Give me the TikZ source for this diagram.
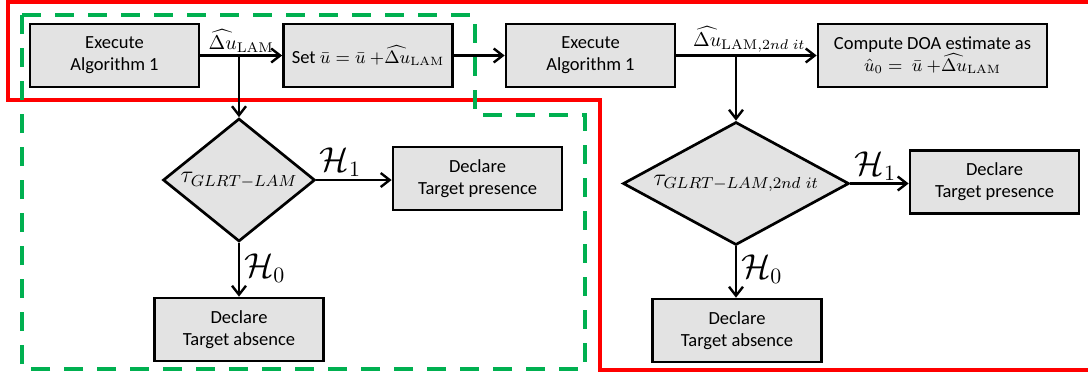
\documentclass[tikz,border=0pt]{standalone}
\usepackage{amsmath, amssymb}
\usepackage[no-math]{fontspec}
\setmainfont{Carlito}
\usepackage{xcolor}
\usepackage{tikz}
\usetikzlibrary{calc, shapes.geometric, positioning, arrows.meta}

\definecolor{hopxam}{RGB}{227,227,227}
\definecolor{xanhla}{RGB}{0,176,80}

\tikzset{
    hop/.style={draw, line width=1.35pt, fill=hopxam, align=center, inner sep=1pt,
        minimum width=84.5pt, minimum height=31.5pt, font=\fontsize{9.25}{11}\selectfont},
    thoi/.style={draw, diamond, line width=1.35pt, fill=hopxam, inner sep=0pt,
        minimum height=61.5pt, font=\fontsize{12}{14}\selectfont},
    nhanH/.style={font=\fontsize{16}{18}\selectfont, inner sep=1pt},
    nhanD/.style={font=\fontsize{10}{12}\selectfont, inner sep=1pt}
}

\begin{document}
\begin{tikzpicture}[>={Straight Barb[length=4.5pt, width=7pt]}, x=0.5pt, y=-0.5pt, line width=1.2pt]
    \clip (0,0) rectangle (1088,377);

    % Khung đỏ và khung xanh
    \draw[red, line width=2pt] (8,2) -- (1096,2) -- (1096,370) -- (600,370)
        -- (600,100) -- (8,100) -- cycle;
    \draw[xanhla, line width=2pt, dash pattern=on 9.5pt off 7pt] (22,15) -- (475,15)
        -- (475,115) -- (585,115) -- (585,369) -- (22,369) -- cycle;

    % Hàng trên
    \node[hop] (exec1) at (114.5,55.5) {Execute\\Algorithm 1};
    \node[hop] (setu) at (368,55.5) {Set $\bar{u} = \bar{u}\ {+}\widehat{\Delta u}_{\mathrm{LAM}}$};
    \node[hop] (exec2) at (590.5,55.5) {Execute\\Algorithm 1};
    \node[hop, minimum width=114.5pt] (doa) at (932.5,55.5)
        {Compute DOA estimate as\\$\hat{u}_0 = \ \bar{u}\ {+}\widehat{\Delta u}_{\mathrm{LAM}}$};

    % Kiểm định lần 1
    \node[thoi, minimum width=76pt, aspect=1.24] (test1) at (239,180) {$\tau_{GLRT-LAM}$};
    \node[hop] (pres1) at (477.5,178.5) {Declare\\Target presence};
    \node[hop] (abs1) at (239,329.5) {Declare\\Target absence};

    % Kiểm định lần 2
    \node[thoi, minimum width=113pt, aspect=1.84] (test2) at (736,183.5) {$\tau_{GLRT-LAM,2nd\ it}$};
    \node[hop] (pres2) at (994.5,182) {Declare\\Target presence};
    \node[hop] (abs2) at (737,330.5) {Declare\\Target absence};

    % Mũi tên
    \draw[->] (exec1) -- (setu) node[nhanD, midway, above] {$\widehat{\Delta u}_{\mathrm{LAM}}$};
    \draw[->] (setu) -- (exec2);
    \draw[->] (exec2) -- (doa) node[nhanD, pos=0.52, above] {$\widehat{\Delta u}_{\mathrm{LAM},2nd\ it}$};

    \coordinate (nhanh1) at (test1.north |- exec1.east);
    \coordinate (nhanh2) at (test2.north |- exec2.east);
    \draw[->] (nhanh1) -- (test1.north);
    \draw[->] (nhanh2) -- (test2.north);

    \draw[->] (test1.east) -- (pres1.west |- test1.east)
        node[nhanH, pos=0.32, above] {$\mathcal{H}_1$};
    \draw[->] (test1.south) -- (abs1.north |- test1.south) -- (abs1.north)
        node[nhanH, pos=0.47, right=1pt] {$\mathcal{H}_0$};
    \draw[->] (test2.east) -- (pres2.west |- test2.east)
        node[nhanH, pos=0.43, above] {$\mathcal{H}_1$};
    \draw[->] (test2.south) -- (test2.south |- abs2.north)
        node[nhanH, pos=0.44, right=1pt] {$\mathcal{H}_0$};
\end{tikzpicture}
\end{document}
